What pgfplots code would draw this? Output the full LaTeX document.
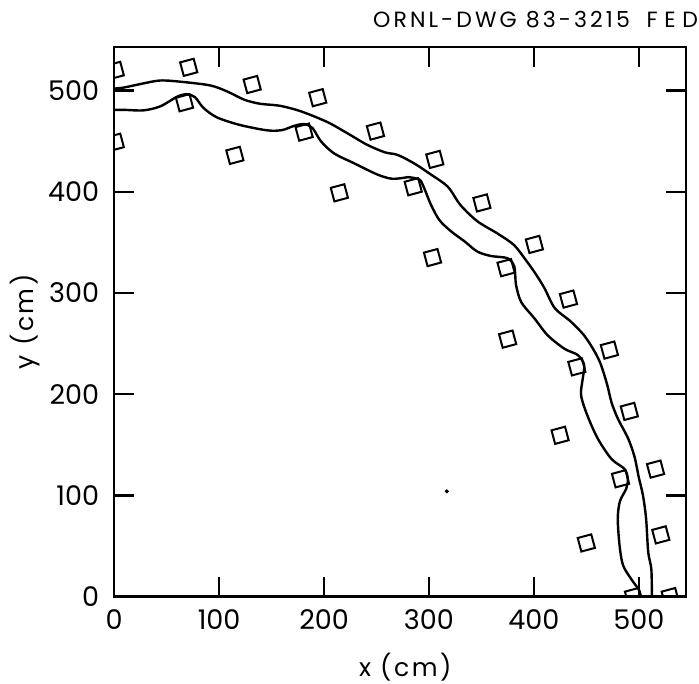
\documentclass[border=0pt]{standalone}
\usepackage{fontspec}
\setmainfont{Poppins}
\usepackage{pgfplots}
\pgfplotsset{compat=1.18}
\begin{document}
\begin{tikzpicture}
\begin{axis}[
  scale only axis,
  width=285.3pt, height=274.2pt,
  xmin=0, xmax=545, ymin=0, ymax=543,
  xtick={0,100,...,500}, ytick={0,100,...,500},
  tick align=inside,
  major tick length=10pt,
  axis line style={line width=1.2pt},
  tick style={line width=1.2pt, black},
  every tick label/.append style={font=\fontsize{13.5}{16}\selectfont},
  xticklabel style={yshift=-3pt},
  yticklabel style={xshift=-4pt},
  /pgf/number format/assume math mode=true,
  xlabel={x (cm)}, ylabel={y (cm)},
  every axis x label/.style={at={(axis description cs:0.509,-0.128)}, anchor=center, font=\fontsize{12.5}{15}\selectfont\addfontfeature{LetterSpace=10}},
  every axis y label/.style={at={(axis description cs:-0.156,0.5)}, anchor=center, rotate=90, font=\fontsize{12.5}{15}\selectfont\addfontfeature{LetterSpace=10}},
  clip mode=global,
  clip marker paths=true,
]
% outer curve
\addplot[black, line width=1.2pt, smooth, tension=0.5] coordinates {
(0,502) (9,503) (25,506.5) (44,510) (66,508.5) (92,505) (108,499) (124,491) (139,487) (158,485) (178,479.5) (203,469) (222,458) (241,446.5) (258,439) (270,436.5) (286,428) (302,417) (318,405) (330,387) (346,371) (365,359) (381,347.5) (392,333) (401,320) (410,305) (420,285) (435,272) (448,258) (458,242) (464,229) (470,209) (474,192) (480,176) (490,156) (496,138) (500,118) (504,100) (507,77) (509,44) (512,27) (512.5,0)
};
% inner curve
\addplot[black, line width=1.2pt, smooth, tension=0.5] coordinates {
(0,481) (9,481) (28,480.5) (44,484.5) (60,494) (69,496.5) (77,493.5) (85,483) (98,473.5) (120,466) (146,460.7) (160,461) (171,465) (181,467) (189,463) (197,450) (209.5,438) (229,428) (251,417) (264,413) (274,413.5) (280,414.5) (291,412) (295.5,403.5) (302,387) (310,372) (321,361) (334,351) (346,341) (359,336.6) (375,334.3) (381.4,326) (383,308) (388,291) (400.5,275) (413,258.4) (429,245) (442,238.6) (448,228.7) (446.6,215.4) (445,199) (451,179) (461,156) (474,136) (486.5,126) (489.6,116) (488,106.5) (482,94) (480,77) (481.7,50.5) (485,31) (493,17) (500,7) (502,0)
};
% measured points
\addplot[only marks, mark=square, mark size=3.5pt, mark options={line width=1pt, rotate=15, black}] coordinates {
(1,520) (1,449) (71,523) (131.5,506) (67,488) (194,493) (181,459) (115,436) (249,460) (214.6,399) (305.6,432) (285,405) (350.5,389) (303.4,335) (400.5,348) (373.5,325) (433,294) (375,254.4) (472,243.6) (441,227) (491,183) (425,159.4) (516,126) (482.6,116.4) (521,61) (450,53) (495,0) (530,0)
};
\addplot[only marks, mark=*, mark size=0.8pt, black] coordinates {(317,104)};
\end{axis}
\path (current axis.north west) ++(129pt,10pt) node[anchor=base west, inner sep=0pt, font=\fontsize{11}{13}\selectfont\addfontfeature{LetterSpace=14}] {ORNL-DWG 83-3215};
\path (current axis.north west) ++(265.5pt,10pt) node[anchor=base west, inner sep=0pt, font=\fontsize{11}{13}\selectfont\addfontfeature{LetterSpace=30}] {FED};
\path (current axis.south west) ++(-57pt,-43.5pt) coordinate (bl);
\path (current axis.north east) ++(6.5pt,23.5pt) coordinate (tr);
\pgfresetboundingbox
\path[use as bounding box] (bl) rectangle (tr);
\end{tikzpicture}
\end{document}
